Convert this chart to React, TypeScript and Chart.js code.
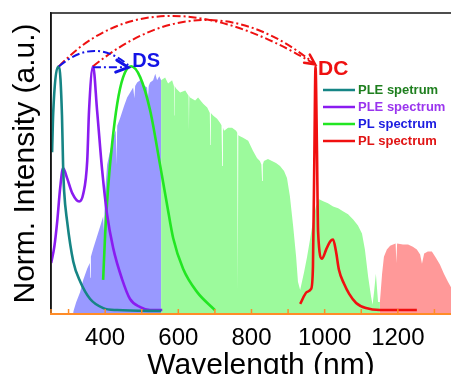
import React, { useEffect, useRef } from 'react';
import { Chart, registerables } from 'chart.js';

Chart.register(...registerables);

// ---------- data (wavelength in nm, normalized intensity) ----------
const xTickLabels = [400, 600, 800, 1000, 1200];
const xMinorTicks = [300, 400, 500, 600, 700, 800, 900, 1000, 1100, 1200, 1300];

// PLE spectrum (teal)
const tealWl = [255, 258, 274, 282, 285, 288, 296, 313, 332, 359, 395, 433, 553];
const tealInt = [0.65, 0.81, 1.0, 0.8, 0.6, 0.49, 0.37, 0.205, 0.123, 0.053, 0.016, 0.008, 0.004];

// PLE spectrum (purple)
const pleWl = [252.5, 261, 269, 277, 285, 296, 310, 329, 340, 351, 356, 367, 378, 392, 405, 422, 446, 468, 496, 523, 556];
const pleInt = [0.2, 0.265, 0.369, 0.504, 0.586, 0.545, 0.484, 0.45, 0.48, 0.615, 0.82, 1.0, 0.82, 0.574, 0.4, 0.26, 0.135, 0.053, 0.02, 0.008, 0.008];

// PL spectrum (green)
const plWl = [394.5, 400, 408, 419, 433, 449, 471, 496, 523, 550, 569, 586, 613, 651, 700];
const plInt = [0.131, 0.316, 0.504, 0.684, 0.848, 0.955, 1.0, 0.955, 0.82, 0.6, 0.439, 0.3, 0.176, 0.082, 0.008];

// PL spectrum (red, NIR)
const dcWl = [933, 952, 963, 968, 972, 975, 979, 982, 993, 1004, 1015, 1023, 1031, 1039, 1053, 1067, 1086, 1113, 1151, 1252];
const dcInt = [0.033, 0.082, 0.094, 0.184, 0.656, 1.0, 0.656, 0.328, 0.217, 0.254, 0.287, 0.295, 0.246, 0.172, 0.115, 0.074, 0.037, 0.016, 0.008, 0.008];

// Solar spectrum, UV-blue part
const sunUvWl = [312.6, 320.8, 331.7, 340, 350.8, 358, 359.5, 361, 367.2, 386.3, 394.5, 396.5, 398, 400, 405.5, 413.7, 421.9, 429, 431, 433, 441, 451.9, 460.1, 468.3, 476.5, 480, 482, 487.4, 495.6, 506.5, 514.7, 517, 519, 522.9, 531.1, 537, 542, 548, 553];
const sunUvInt = [0, 0.04, 0.082, 0.13, 0.176, 0.2, 0.14, 0.225, 0.258, 0.348, 0.389, 0.33, 0.4, 0.49, 0.6, 0.656, 0.709, 0.74, 0.6, 0.758, 0.79, 0.84, 0.873, 0.893, 0.914, 0.87, 0.92, 0.934, 0.943, 0.922, 0.914, 0.87, 0.92, 0.934, 0.943, 0.97, 0.943, 0.96, 0.943];

// Solar spectrum, visible-NIR part
const sunVisWl = [553, 564, 572, 583, 588, 589, 590, 594, 605, 619, 628, 629, 630, 632, 646, 654, 668, 679, 686, 687.5, 689, 695, 706, 714, 718, 720, 722, 725, 736, 747, 758, 761, 762.5, 764, 766, 777, 791, 804, 815, 823, 827, 829, 831, 834, 845, 856, 867, 878, 889, 897, 905, 914, 922, 927, 933, 938, 944, 952, 960, 968, 976, 985, 996, 1009, 1023, 1037, 1050, 1064, 1078, 1091, 1102, 1110, 1119, 1127, 1131, 1135, 1140, 1146, 1151];
const sunVisInt = [0.943, 0.955, 0.93, 0.943, 0.92, 0.8, 0.92, 0.91, 0.893, 0.902, 0.88, 0.74, 0.88, 0.873, 0.861, 0.873, 0.848, 0.832, 0.811, 0.68, 0.81, 0.8, 0.787, 0.77, 0.76, 0.594, 0.75, 0.738, 0.75, 0.75, 0.738, 0.73, 0.082, 0.72, 0.717, 0.709, 0.697, 0.656, 0.627, 0.615, 0.6, 0.533, 0.6, 0.615, 0.623, 0.615, 0.607, 0.594, 0.574, 0.545, 0.471, 0.348, 0.225, 0.123, 0.09, 0.123, 0.164, 0.225, 0.295, 0.369, 0.43, 0.459, 0.451, 0.443, 0.43, 0.422, 0.41, 0.398, 0.377, 0.352, 0.32, 0.254, 0.143, 0.061, 0.03, 0.082, 0.156, 0.041, 0.041];

// Solar spectrum, IR part
const sunIrWl = [1151, 1157, 1162, 1170, 1179, 1187, 1194, 1196, 1198, 1200, 1214, 1228, 1241, 1252, 1261, 1266, 1272, 1282, 1293, 1304, 1315, 1326, 1337, 1345, 1360];
const sunIrInt = [0.041, 0.156, 0.225, 0.254, 0.27, 0.275, 0.279, 0.2, 0.279, 0.279, 0.275, 0.275, 0.266, 0.254, 0.234, 0.197, 0.238, 0.246, 0.246, 0.221, 0.193, 0.156, 0.123, 0.102, 0.07];

// energy-transfer arrows: [wavelength, intensity] of start, control, end
const redArcs = [
  { from: [274, 1.0], ctrl: [532, 1.406], to: [974, 1.008] },
  { from: [367, 1.0], ctrl: [676, 1.373], to: [974, 1.008] },
];
const blueArcs = [
  { from: [274, 1.0], ctrl: [371, 1.123], to: [463, 1.005] },
  { from: [367, 0.996], ctrl: [414, 0.996], to: [463, 0.996] },
];
const labelDS = { text: 'DS', at: [474, 0.996] };
const labelDC = { text: 'DC', at: [982, 0.963] };

const legendItems = [
  { text: 'PLE spetrum', line: '#168585', color: '#1f7f1f' },
  { text: 'PLE spectrum', line: '#8a1cf0', color: '#9a35ee' },
  { text: 'PL spectrum', line: '#22e622', color: '#1c1ce0' },
  { text: 'PL spectrum', line: '#f01010', color: '#e01414' },
];

const FONT = '"Liberation Sans", Arial, Helvetica, sans-serif';
const ORANGE = '#ff8c28';

const toPts = (xs: number[], ys: number[]) => xs.map((v, i) => ({ x: v, y: ys[i] }));

function drawArrowHead(ctx: CanvasRenderingContext2D, tip: number[], from: number[], len: number, half: number, color: string, width: number) {
  const ang = Math.atan2(tip[1] - from[1], tip[0] - from[0]);
  const spread = Math.atan2(half, len);
  const l = Math.hypot(len, half);
  ctx.save();
  ctx.setLineDash([]);
  ctx.strokeStyle = color;
  ctx.lineWidth = width;
  ctx.lineCap = 'round';
  ctx.beginPath();
  ctx.moveTo(tip[0] - l * Math.cos(ang - spread), tip[1] - l * Math.sin(ang - spread));
  ctx.lineTo(tip[0], tip[1]);
  ctx.lineTo(tip[0] - l * Math.cos(ang + spread), tip[1] - l * Math.sin(ang + spread));
  ctx.stroke();
  ctx.restore();
}

const overlayPlugin = {
  id: 'overlay',
  afterDatasetsDraw(chart: any) {
    const { ctx, chartArea, scales } = chart;
    const xs = scales.x;
    const ys = scales.y;
    const P = (p: number[]) => [xs.getPixelForValue(p[0]), ys.getPixelForValue(p[1])];
    ctx.save();

    // frame: top & left black, bottom orange
    ctx.setLineDash([]);
    ctx.strokeStyle = '#151515';
    ctx.lineWidth = 1.5;
    ctx.beginPath();
    ctx.moveTo(chartArea.left, chartArea.bottom);
    ctx.lineTo(chartArea.left, chartArea.top);
    ctx.lineTo(chartArea.right, chartArea.top);
    ctx.stroke();

    ctx.strokeStyle = ORANGE;
    ctx.lineWidth = 2;
    ctx.beginPath();
    ctx.moveTo(chartArea.left - 1, chartArea.bottom);
    ctx.lineTo(chartArea.right, chartArea.bottom);
    ctx.stroke();
    ctx.lineWidth = 1.5;
    xMinorTicks.forEach((t) => {
      const px = xs.getPixelForValue(t);
      ctx.beginPath();
      ctx.moveTo(px, chartArea.bottom);
      ctx.lineTo(px, chartArea.bottom - 5);
      ctx.stroke();
    });
    ctx.beginPath();
    ctx.moveTo(chartArea.left, chartArea.bottom);
    ctx.lineTo(chartArea.left, chartArea.bottom - 5);
    ctx.stroke();

    // red dash-dot arcs
    ctx.strokeStyle = '#ee1111';
    ctx.lineWidth = 2;
    ctx.setLineDash([8, 3, 2, 3]);
    redArcs.forEach((a) => {
      const p0 = P(a.from), c = P(a.ctrl), p2 = P(a.to);
      ctx.beginPath();
      ctx.moveTo(p0[0], p0[1]);
      ctx.quadraticCurveTo(c[0], c[1], p2[0], p2[1]);
      ctx.stroke();
    });
    {
      const c = P(redArcs[0].ctrl), p2 = P(redArcs[0].to);
      const c2 = P(redArcs[1].ctrl);
      drawArrowHead(ctx, p2, [(c[0] + c2[0]) / 2, (c[1] + c2[1]) / 2], 10, 5, '#ee1111', 2.5);
    }

    // blue dash-dot arcs
    ctx.strokeStyle = '#1414e6';
    ctx.lineWidth = 2;
    ctx.setLineDash([8, 3, 2, 3]);
    blueArcs.forEach((a) => {
      const p0 = P(a.from), c = P(a.ctrl), p2 = P(a.to);
      ctx.beginPath();
      ctx.moveTo(p0[0], p0[1]);
      ctx.quadraticCurveTo(c[0], c[1], p2[0], p2[1]);
      ctx.stroke();
    });
    {
      const p2 = P(blueArcs[1].to);
      drawArrowHead(ctx, p2, [p2[0] - 20, p2[1] - 2], 12, 6, '#1414e6', 3);
    }

    // DS / DC labels
    ctx.setLineDash([]);
    ctx.textAlign = 'left';
    ctx.textBaseline = 'alphabetic';
    ctx.font = `bold 20px ${FONT}`;
    ctx.fillStyle = '#1414e6';
    const ds = P(labelDS.at);
    ctx.fillText(labelDS.text, ds[0], ds[1]);
    ctx.font = `bold 21px ${FONT}`;
    ctx.fillStyle = '#ee1111';
    const dc = P(labelDC.at);
    ctx.fillText(labelDC.text, dc[0], dc[1]);

    // legend
    ctx.font = `bold 13px ${FONT}`;
    ctx.textBaseline = 'middle';
    legendItems.forEach((it, i) => {
      const yy = 90 + i * 17;
      ctx.strokeStyle = it.line;
      ctx.lineWidth = 2.5;
      ctx.beginPath();
      ctx.moveTo(323, yy);
      ctx.lineTo(355, yy);
      ctx.stroke();
      ctx.fillStyle = it.color;
      ctx.fillText(it.text, 358, yy + 0.5);
    });

    ctx.restore();
  },
};

export default function App() {
  const ref = useRef<HTMLCanvasElement | null>(null);

  useEffect(() => {
    if (!ref.current) return;
    const lineDs = (label: string, xs: number[], ys: number[], color: string) => ({
      label,
      data: toPts(xs, ys),
      borderColor: color,
      backgroundColor: color,
      borderWidth: 2.6,
      pointRadius: 0,
      fill: false,
      cubicInterpolationMode: 'monotone' as const,
      order: 0,
    });
    const fillDs = (label: string, xs: number[], ys: number[], color: string) => ({
      label,
      data: toPts(xs, ys),
      borderColor: 'rgba(0,0,0,0)',
      backgroundColor: color,
      borderWidth: 0,
      pointRadius: 0,
      fill: 'start',
      tension: 0,
      order: 5,
    });
    const chart = new Chart(ref.current, {
      type: 'line',
      data: {
        datasets: [
          lineDs('PLE spetrum', tealWl, tealInt, '#168585'),
          lineDs('PLE spectrum', pleWl, pleInt, '#8a1cf0'),
          lineDs('PL spectrum', plWl, plInt, '#22e622'),
          lineDs('PL spectrum (NIR)', dcWl, dcInt, '#f01010'),
          fillDs('Solar UV', sunUvWl, sunUvInt, '#9999ff'),
          fillDs('Solar Vis', sunVisWl, sunVisInt, '#9cfa9c'),
          fillDs('Solar IR', sunIrWl, sunIrInt, '#ff9999'),
        ] as any,
      },
      options: {
        animation: false,
        responsive: false,
        events: [],
        layout: { padding: { top: 13, left: 0, right: 0, bottom: 0 } },
        plugins: { legend: { display: false }, tooltip: { enabled: false } },
        scales: {
          x: {
            type: 'linear',
            min: 252,
            max: 1400,
            grid: { display: false, drawTicks: false },
            border: { display: true, color: ORANGE, width: 2 },
            afterBuildTicks: (scale: any) => {
              scale.ticks = xTickLabels.map((v) => ({ value: v }));
            },
            ticks: {
              autoSkip: false,
              maxRotation: 0,
              padding: 12,
              color: '#000',
              font: { family: FONT, size: 24, lineHeight: 1 },
              callback: (v: any) => String(v),
            },
            title: {
              display: true,
              text: 'Wavelength (nm)',
              color: '#000',
              padding: { top: -11, bottom: 2 },
              font: { family: FONT, size: 30, lineHeight: 1 },
            },
          },
          y: {
            type: 'linear',
            min: -0.008,
            max: 1.217,
            grid: { display: false, drawTicks: false },
            border: { display: true, color: '#151515', width: 1.5 },
            ticks: { display: false },
            title: {
              display: true,
              text: 'Norm. Intensity (a.u.)',
              color: '#000',
              padding: { top: 11, bottom: 10 },
              font: { family: FONT, size: 30, lineHeight: 1 },
            },
          },
        },
      },
      plugins: [overlayPlugin],
    });
    return () => chart.destroy();
  }, []);

  return (
    <div style={{ position: 'fixed', left: 0, top: 0, width: 451, height: 374, overflow: 'hidden', background: '#fff' }}>
      <canvas ref={ref} width={471} height={383} style={{ display: 'block' }} />
    </div>
  );
}
